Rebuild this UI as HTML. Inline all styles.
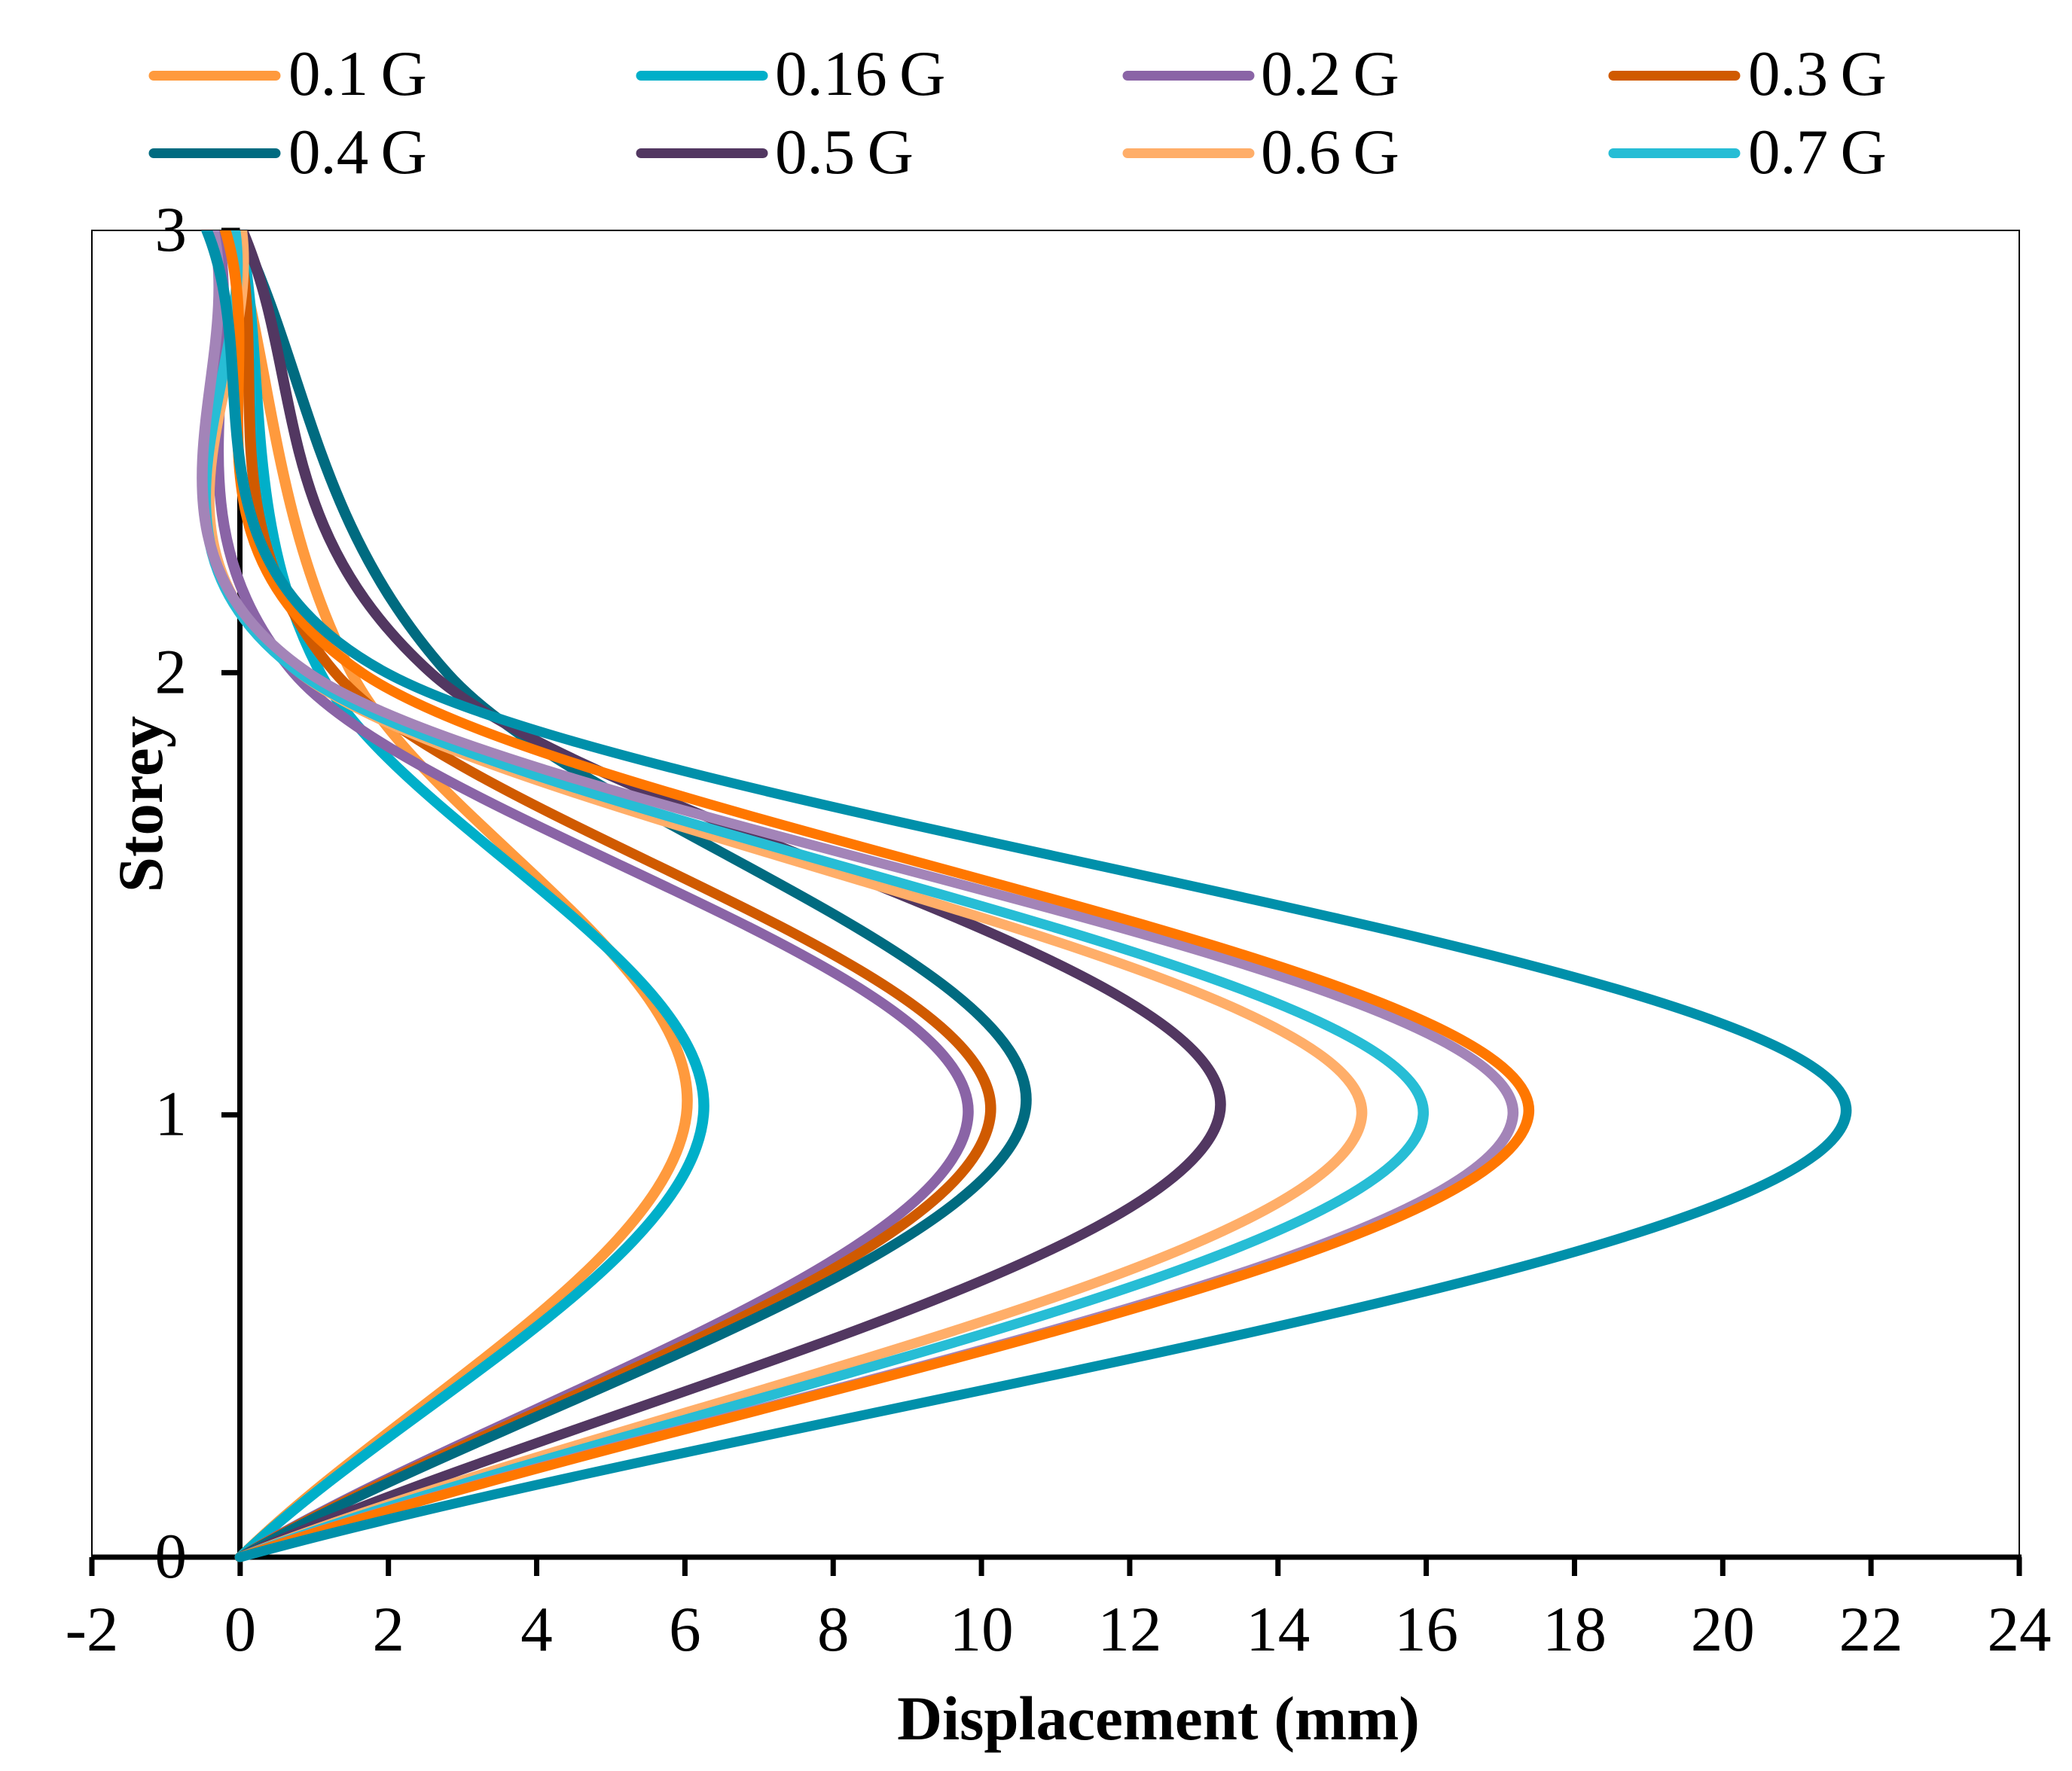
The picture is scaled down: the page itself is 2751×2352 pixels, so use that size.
<!DOCTYPE html>
<html lang="en">
<head>
<meta charset="utf-8">
<title>Displacement vs Storey</title>
<style>
html,body{margin:0;padding:0;background:#fff;}
svg{display:block;}
text{font-family:"Liberation Serif","Times New Roman",serif;fill:#000;}
</style>
</head>
<body>
<svg id="chart" xmlns="http://www.w3.org/2000/svg" width="2751" height="2352" viewBox="0 0 2751 2352">
  <defs><clipPath id="plot-clip"><rect x="0" y="306" width="2751" height="1800"/></clipPath></defs>
  <rect x="0" y="0" width="2751" height="2352" fill="#fff"/>
  <g id="frame"></g>
  <g id="axes"></g>
  <g id="series" clip-path="url(#plot-clip)"></g>
  <g id="legend"></g>
  <text x="1538" y="2310" font-size="83" font-weight="700" text-anchor="middle">Displacement (mm)</text>
  <text transform="translate(215 1068) rotate(-90)" font-size="85" font-weight="700" text-anchor="middle">Storey</text>
</svg>
<script>
const storeys = [0, 1, 2, 3];
const xTicks = [-2, 0, 2, 4, 6, 8, 10, 12, 14, 16, 18, 20, 22, 24];
const yTicks = [0, 1, 2, 3];
const seriesNames = ['0.1 G', '0.16 G', '0.2 G', '0.3 G', '0.4 G', '0.5 G', '0.6 G', '0.7 G', 'unlabelled-a', 'unlabelled-b', 'unlabelled-c'];
const legendNames = ['0.1 G', '0.16 G', '0.2 G', '0.3 G', '0.4 G', '0.5 G', '0.6 G', '0.7 G'];
const seriesColors = ['#FF9A3D', '#00AFC9', '#8A64A6', '#D05A00', '#006B80', '#523761', '#FFAE69', '#27BDD5', '#A384B8', '#FF7700', '#0090AA'];
const d01 = [0, 6.02, 1.5, -0.1];
const d016 = [0, 6.25, 1.08, 0.0];
const d02 = [0, 9.82, 0.72, -0.3];
const d03 = [0, 10.12, 1.28, -0.05];
const d04 = [0, 10.58, 2.79, 0.0];
const d05 = [0, 13.21, 2.57, 0.03];
const d06 = [0, 15.13, 0.8, 0.02];
const d07 = [0, 15.96, 0.8, -0.07];
const dA = [0, 17.17, 0.92, -0.36];
const dB = [0, 17.38, 1.64, -0.2];
const dC = [0, 21.66, 1.97, -0.45];
const allSeries = [d01, d016, d02, d03, d04, d05, d06, d07, dA, dB, dC];

const NS = 'http://www.w3.org/2000/svg';
const xMin = -2, xMax = 24, yMin = 0, yMax = 3;
const pxLeft = 122, pxRight = 2681, pxTop = 306, pxBottom = 2068;
const xAxisAtZero = 318.5;
const strokeStretch = 1.12;
function sx(v) { return pxLeft + (v - xMin) / (xMax - xMin) * (pxRight - pxLeft); }
function sy(v) { return pxBottom - (v - yMin) / (yMax - yMin) * (pxBottom - pxTop); }
function mk(tag, parent) { const e = document.createElementNS(NS, tag); parent.appendChild(e); return e; }
function dist(a, b) { return Math.hypot(a[0] - b[0], a[1] - b[1]); }
function fmt(p) { return (p[0] / strokeStretch).toFixed(2) + ' ' + p[1].toFixed(2); }

/* Spreadsheet-style smoothed scatter: a Bezier through the four read values */
function smoothPath(pts) {
  const n = pts.length;
  let d = 'M' + fmt(pts[0]);
  for (let i = 0; i < n - 1; i++) {
    const p0 = pts[Math.max(i - 1, 0)], p1 = pts[i], p2 = pts[i + 1], p3 = pts[Math.min(i + 2, n - 1)];
    const a = dist(p0, p2), b = dist(p1, p3), c = dist(p1, p2);
    const f = i === 0 ? 1 / 3 : 1 / 6, g = i === n - 2 ? 1 / 3 : 1 / 6;
    const s1 = (a / 6 < c / 2) ? f : c / 2 / a * 1;
    const s2 = (b / 6 < c / 2) ? g : c / 2 / b * 1;
    const k1 = (a / 6 < c / 2 && b / 6 < c / 2) ? f : (a / 6 < c / 2 ? c / a * f : s1);
    const k2 = (a / 6 < c / 2 && b / 6 < c / 2) ? g : (b / 6 < c / 2 ? c / b * g : s2);
    const c1 = [p1[0] + k1 * (p2[0] - p0[0]), p1[1] + k1 * (p2[1] - p0[1])];
    const c2 = [p2[0] + k2 * (p1[0] - p3[0]), p2[1] + k2 * (p1[1] - p3[1])];
    d += 'C' + fmt(c1) + ' ' + fmt(c2) + ' ' + fmt(p2);
  }
  return d;
}

const frame = document.getElementById('frame');
const axes = document.getElementById('axes');
const seriesG = document.getElementById('series');
const legend = document.getElementById('legend');

const border = mk('rect', frame);


border.setAttribute('x', pxLeft);
border.setAttribute('y', pxTop);
border.setAttribute('width', pxRight - pxLeft);
border.setAttribute('height', pxBottom - pxTop);
border.setAttribute('fill', 'none');
border.setAttribute('stroke', '#000');
border.setAttribute('stroke-width', '2');

const xAxisLine = mk('line', axes);


xAxisLine.setAttribute('x1', pxLeft);
xAxisLine.setAttribute('x2', pxRight + 3);
xAxisLine.setAttribute('y1', pxBottom);
xAxisLine.setAttribute('y2', pxBottom);
xAxisLine.setAttribute('stroke', '#000');
xAxisLine.setAttribute('stroke-width', '7');

const yAxisLine = mk('line', axes);


yAxisLine.setAttribute('x1', xAxisAtZero);
yAxisLine.setAttribute('x2', xAxisAtZero);
yAxisLine.setAttribute('y1', pxTop);
yAxisLine.setAttribute('y2', pxBottom);
yAxisLine.setAttribute('stroke', '#000');
yAxisLine.setAttribute('stroke-width', '7');

xTicks.forEach(function (t) {
  const tick = mk('line', axes);
  
  
  tick.setAttribute('x1', sx(t));
  tick.setAttribute('x2', sx(t));
  tick.setAttribute('y1', pxBottom);
  tick.setAttribute('y2', pxBottom + 25);
  tick.setAttribute('stroke', '#000');
  tick.setAttribute('stroke-width', '7');
  const lab = mk('text', axes);
  
  
  lab.setAttribute('x', sx(t));
  lab.setAttribute('y', 2192);
  lab.setAttribute('font-size', '85');
  lab.setAttribute('text-anchor', 'middle');
  lab.textContent = String(t);
});

yTicks.forEach(function (t) {
  const tick = mk('line', axes);
  
  
  tick.setAttribute('x1', 294);
  tick.setAttribute('x2', xAxisAtZero);
  tick.setAttribute('y1', sy(t));
  tick.setAttribute('y2', sy(t));
  tick.setAttribute('stroke', '#000');
  tick.setAttribute('stroke-width', '7');
  const lab = mk('text', axes);
  
  
  lab.setAttribute('x', 248);
  lab.setAttribute('y', sy(t) + 27);
  lab.setAttribute('font-size', '85');
  lab.setAttribute('text-anchor', 'end');
  lab.textContent = String(t);
});

allSeries.forEach(function (vals, i) {
  const pts = vals.map(function (v, k) { return [sx(v), sy(storeys[k])]; });
  const p = mk('path', seriesG);
  
  
  p.setAttribute('data-series', seriesNames[i]);
  p.setAttribute('d', smoothPath(pts));
  p.setAttribute('transform', 'scale(' + strokeStretch + ' 1)');
  p.setAttribute('fill', 'none');
  p.setAttribute('stroke', seriesColors[i]);
  p.setAttribute('stroke-width', '13');
  p.setAttribute('stroke-linecap', 'round');
  p.setAttribute('stroke-linejoin', 'round');
});

const legendLineX = [204, 851, 1497, 2142];
const legendTextX = [383, 1029, 1674, 2321];
const legendLineY = [100.5, 203.5];
const legendTextY = [126, 230];
legendNames.forEach(function (name, i) {
  const col = i % 4, row = Math.floor(i / 4);
  const l = mk('line', legend);
  
  
  l.setAttribute('x1', legendLineX[col]);
  l.setAttribute('x2', legendLineX[col] + 162);
  l.setAttribute('y1', legendLineY[row]);
  l.setAttribute('y2', legendLineY[row]);
  l.setAttribute('stroke', seriesColors[i]);
  l.setAttribute('stroke-width', '13');
  l.setAttribute('stroke-linecap', 'round');
  const t = mk('text', legend);
  
  
  t.setAttribute('x', legendTextX[col]);
  t.setAttribute('y', legendTextY[row]);
  t.setAttribute('font-size', '85');
  t.setAttribute('word-spacing', '-5');
  t.textContent = name;
});
</script>
</body>
</html>
